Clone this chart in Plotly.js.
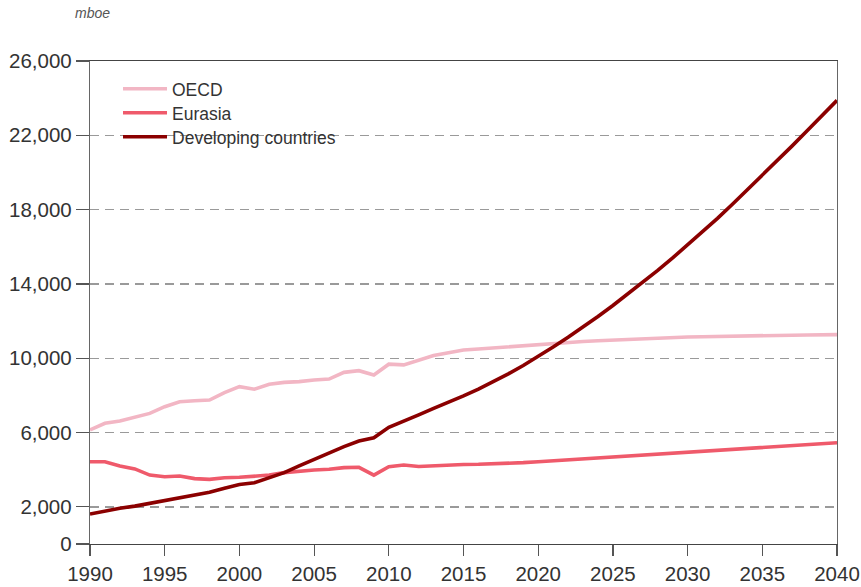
<!DOCTYPE html>
<html>
<head>
<meta charset="utf-8">
<script src="https://cdn.plot.ly/plotly-3.0.1.min.js"></script>
<style>html,body{margin:0;padding:0;background:#fff;}#chart{width:861px;height:587px;}</style>
</head>
<body>
<div id="chart"></div>
<script>
const years = [];
for (let y = 1990; y <= 2040; y++) years.push(y);

const oecd = [6140, 6500, 6620, 6850, 7030, 7390, 7660, 7710, 7750, 8150,
  8470, 8330, 8600, 8700, 8740, 8830, 8880, 9240, 9330, 9100,
  9680, 9640, 9900, 10150, 10300, 10440, 10500, 10560, 10630, 10690,
  10760, 10810, 10860, 10900, 10940, 10980, 11020, 11050, 11080, 11110,
  11140, 11160, 11180, 11200, 11210, 11220, 11230, 11240, 11250, 11260, 11270];

const eurasia = [4430, 4430, 4200, 4040, 3710, 3620, 3660, 3520, 3480, 3570,
  3590, 3660, 3710, 3840, 3930, 3980, 4020, 4110, 4130, 3710,
  4160, 4250, 4170, 4220, 4260, 4280, 4290, 4310, 4340, 4380,
  4430, 4480, 4530, 4580, 4640, 4690, 4740, 4800, 4850, 4900,
  4950, 5000, 5050, 5100, 5150, 5200, 5250, 5300, 5350, 5400, 5450];

const developing = [1610, 1770, 1920, 2040, 2190, 2330, 2490, 2670, 2780, 3000,
  3200, 3300, 3570, 3840, 4200, 4560, 4880, 5240, 5540, 5720,
  6280, 6640, 6950, 7300, 7620, 7970, 8340, 8740, 9160, 9610,
  10090, 10600, 11130, 11680, 12250, 12840, 13450, 14080, 14730, 15400,
  16090, 16800, 17530, 18290, 19060, 19840, 20630, 21430, 22240, 23060, 23880];

const yTicks = [0, 2000, 6000, 10000, 14000, 18000, 22000, 26000];
const xTicks = [1990, 1995, 2000, 2005, 2010, 2015, 2020, 2025, 2030, 2035, 2040];

const names = ['OECD', 'Eurasia', 'Developing countries'];
const colors = ['#f2b6c4', '#ef5a6b', '#8b0000'];
const series = [oecd, eurasia, developing];
const legendIds = ['legend', 'legend2', 'legend3'];

const traces = series.map((s, i) => ({
  x: years, y: s, name: names[i], type: 'scatter', mode: 'lines',
  legend: legendIds[i],
  line: {color: colors[i], width: 3.6}
}));

const font = {family: 'Liberation Sans, Arial, sans-serif', color: '#333'};

function legendAt(yPaper) {
  return {
    x: 0.0375, y: yPaper, xanchor: 'left', yanchor: 'top',
    bgcolor: 'rgba(0,0,0,0)', itemwidth: 44,
    font: Object.assign({size: 17.5}, font)
  };
}

const layout = {
  width: 861, height: 587,
  margin: {l: 90, r: 24, t: 61, b: 43},
  paper_bgcolor: '#fff', plot_bgcolor: '#fff',
  font: Object.assign({size: 20.5}, font),
  showlegend: true,
  legend: legendAt(0.9797),
  legend2: legendAt(0.9300),
  legend3: legendAt(0.8803),
  xaxis: {
    range: [1990, 2040], tickvals: xTicks, ticks: 'outside', ticklen: 11,
    tickcolor: '#555', tickwidth: 1.2, showline: true, linecolor: '#444', linewidth: 1.2,
    mirror: true, showgrid: false, zeroline: false,
    tickfont: Object.assign({size: 20.5}, font)
  },
  yaxis: {
    range: [0, 26000], tickvals: yTicks, tickformat: ',d', ticks: 'outside', ticklen: 13,
    tickcolor: '#555', tickwidth: 1.2, showline: true, linecolor: '#666', linewidth: 1.2,
    mirror: true, showgrid: true, gridcolor: '#9a9a9a', gridwidth: 1.3, griddash: '9px,6px',
    zeroline: false, tickfont: Object.assign({size: 20.5}, font)
  },
  annotations: [{
    text: '<i>mboe</i>', xref: 'paper', yref: 'paper', x: -0.023, y: 1.1, xanchor: 'left', yanchor: 'middle',
    showarrow: false, font: Object.assign({}, font, {size: 14, color: '#555'})
  }]
};

Plotly.newPlot('chart', traces, layout, {displayModeBar: false, staticPlot: true});
</script>
</body>
</html>
